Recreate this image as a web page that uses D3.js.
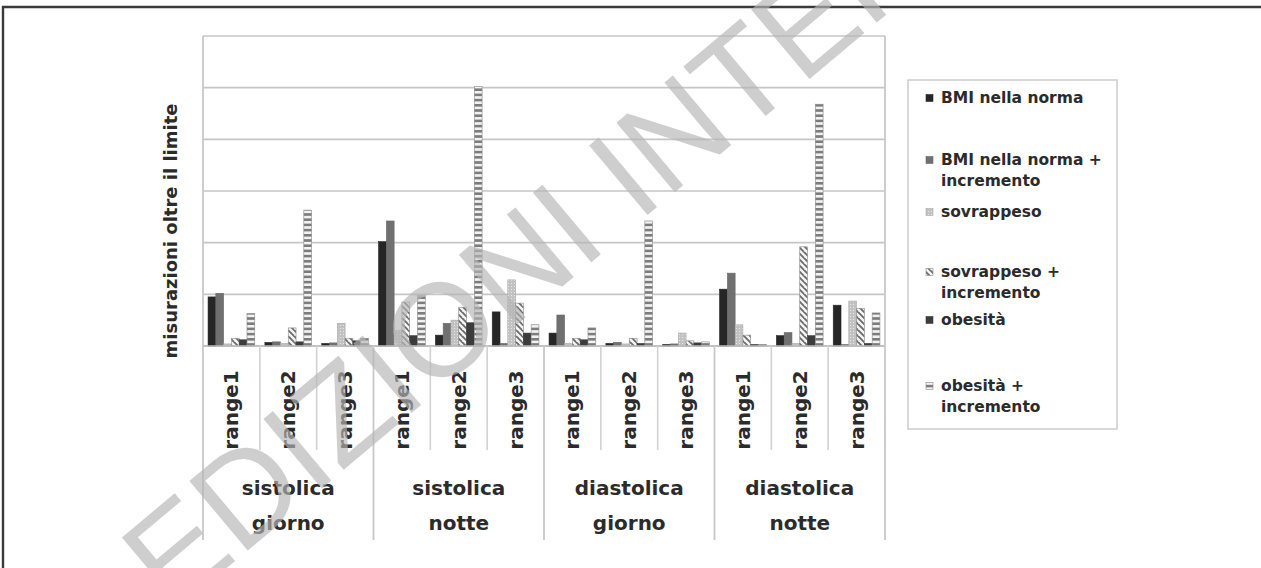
<!DOCTYPE html>
<html>
<head>
<meta charset="utf-8">
<script src="https://cdn.jsdelivr.net/npm/d3@7/dist/d3.min.js"></script>
<style>
  html, body { margin: 0; padding: 0; background: #fff; }
  svg { display: block; }
</style>
</head>
<body>
<svg id="chart" width="1261" height="568"></svg>
<script>
// ---- data ---------------------------------------------------------------
const blocks = [["sistolica", "giorno"], ["sistolica", "notte"], ["diastolica", "giorno"], ["diastolica", "notte"]];
const ranges = ["range1", "range2", "range3"];
const seriesNames = ["BMI nella norma", "BMI nella norma + incremento", "sovrappeso",
                     "sovrappeso + incremento", "obesità", "obesità + incremento"];
const legendLines = [["BMI nella norma"], ["BMI nella norma +", "incremento"], ["sovrappeso"],
                     ["sovrappeso +", "incremento"], ["obesità"], ["obesità +", "incremento"]];
const yTicks = [0, 10, 20, 30, 40, 50, 60];

// one value per block/range, in the order sistolica giorno r1..r3, sistolica notte r1..r3, ...
const bmiNorma        = [9.5, 0.7, 0.5, 20.2, 2.1, 6.6, 2.5, 0.5, 0.3, 11.0, 2.0, 7.9];
const bmiNormaIncr    = [10.2, 0.8, 0.6, 24.2, 4.4, 0.5, 6.0, 0.7, 0.4, 14.1, 2.6, 0.3];
const sovrappeso      = [0.4, 0.5, 4.4, 3.0, 5.0, 12.8, 0.5, 0.4, 2.5, 4.1, 0.5, 8.7];
const sovrappesoIncr  = [1.5, 3.5, 1.5, 8.5, 7.5, 8.3, 1.5, 1.5, 1.0, 2.1, 19.2, 7.3];
const obesita         = [1.2, 0.8, 1.0, 2.0, 4.5, 2.5, 1.2, 0.5, 0.6, 0.3, 2.0, 0.5];
const obesitaIncr     = [6.3, 26.3, 1.5, 9.8, 50.2, 4.1, 3.5, 24.2, 0.8, 0.3, 46.8, 6.4];
const seriesValues = [bmiNorma, bmiNormaIncr, sovrappeso, sovrappesoIncr, obesita, obesitaIncr];

// ---- layout -------------------------------------------------------------
const svg = d3.select("#chart");
const plot = { left: 203, right: 885, top: 36, bottom: 346 };
const labelBottom = 540, rangeLineBottom = 450;
const FONT = "'DejaVu Sans', Verdana, sans-serif";
const TEXT = "#2b2b2b";
const GRID = "#c6c6c6";

const categories = [];
blocks.forEach((b, bi) => ranges.forEach(r => categories.push(bi + "|" + r)));

const x0 = d3.scaleBand().domain(categories).range([plot.left, plot.right]).padding(0);
const x1 = d3.scaleBand().domain(d3.range(seriesNames.length)).range([0, x0.bandwidth()])
  .paddingInner(0).paddingOuter(0.65);
const y = d3.scaleLinear().domain([0, 60]).range([plot.bottom, plot.top]);

// ---- fill patterns ------------------------------------------------------
const defs = svg.append("defs");
const pDots = defs.append("pattern").attr("id", "pat-sovr").attr("patternUnits", "userSpaceOnUse")
  .attr("width", 3).attr("height", 3);
pDots.append("rect").attr("width", 3).attr("height", 3).attr("fill", "#c2c2c2");
pDots.append("rect").attr("x", 1).attr("y", 1).attr("width", 1).attr("height", 1).attr("fill", "#e6e6e6");

const pDiag = defs.append("pattern").attr("id", "pat-sovr-incr").attr("patternUnits", "userSpaceOnUse")
  .attr("width", 6).attr("height", 6);
pDiag.append("rect").attr("width", 6).attr("height", 6).attr("fill", "#f4f4f4");
pDiag.append("path").attr("d", "M0,0 L6,6 M-3,3 L0,6 M3,-3 L9,3")
  .attr("stroke", "#6a6a6a").attr("stroke-width", 1.8).attr("fill", "none");

const pHor = defs.append("pattern").attr("id", "pat-obes-incr").attr("patternUnits", "userSpaceOnUse")
  .attr("width", 6).attr("height", 5.2);
pHor.append("rect").attr("width", 6).attr("height", 5.2).attr("fill", "#f2f2f2");
pHor.append("rect").attr("width", 6).attr("height", 2.6).attr("fill", "#7c7c7c");

const fills = ["#262626", "#707070", "url(#pat-sovr)", "url(#pat-sovr-incr)", "#3c3c3c", "url(#pat-obes-incr)"];
const strokes = ["#262626", "#6a6a6a", "#a8a8a8", "#8a8a8a", "#3c3c3c", "#8a8a8a"];

// ---- grid ---------------------------------------------------------------
svg.append("g").selectAll("line").data(yTicks).join("line")
  .attr("x1", plot.left).attr("x2", plot.right)
  .attr("y1", d => y(d)).attr("y2", d => y(d))
  .attr("stroke", GRID).attr("stroke-width", 1.6);

// ---- bars ---------------------------------------------------------------
const bars = [];
categories.forEach((c, ci) => seriesValues.forEach((vals, si) => bars.push({ c, si, v: vals[ci] })));
svg.append("g").selectAll("rect").data(bars).join("rect")
  .attr("x", d => x0(d.c) + x1(d.si))
  .attr("width", x1.bandwidth())
  .attr("y", d => y(d.v))
  .attr("height", d => y(0) - y(d.v))
  .attr("fill", d => fills[d.si])
  .attr("stroke", d => strokes[d.si])
  .attr("stroke-width", 0.6);

// ---- category axis (two levels) -----------------------------------------
const axisG = svg.append("g");
axisG.append("line").attr("x1", plot.left).attr("x2", plot.right)
  .attr("y1", plot.bottom).attr("y2", plot.bottom).attr("stroke", "#bdbdbd").attr("stroke-width", 1.6);

// separators between ranges
axisG.selectAll("line.rsep").data(categories.filter((c, i) => i % ranges.length !== 0)).join("line")
  .attr("class", "rsep")
  .attr("x1", d => x0(d)).attr("x2", d => x0(d))
  .attr("y1", plot.bottom).attr("y2", rangeLineBottom)
  .attr("stroke", "#d2d2d2").attr("stroke-width", 1.6);

// separators between blocks, including the outer edges
const blockEdges = d3.range(blocks.length + 1).map(i =>
  i < blocks.length ? x0(categories[i * ranges.length]) : plot.right);
axisG.selectAll("line.bsep").data(blockEdges).join("line")
  .attr("class", "bsep")
  .attr("x1", d => d).attr("x2", d => d)
  .attr("y1", (d, i) => (i === 0 || i === blocks.length) ? plot.top : plot.bottom)
  .attr("y2", labelBottom)
  .attr("stroke", "#c8c8c8").attr("stroke-width", 1.8);

// range labels, vertical
axisG.selectAll("text.rlab").data(categories).join("text")
  .attr("class", "rlab")
  .attr("transform", d => `translate(${x0(d) + x0.bandwidth() / 2},410) rotate(-90)`)
  .attr("text-anchor", "middle").attr("dominant-baseline", "central")
  .attr("font-family", FONT).attr("font-weight", "bold").attr("font-size", 20)
  .attr("fill", TEXT)
  .text(d => d.split("|")[1]);

// block labels, two lines each
blocks.forEach((b, bi) => {
  const cx = (blockEdges[bi] + blockEdges[bi + 1]) / 2;
  const t = axisG.append("text").attr("text-anchor", "middle")
    .attr("font-family", FONT).attr("font-weight", "bold").attr("font-size", 20).attr("fill", TEXT);
  b.forEach((line, li) => t.append("tspan").attr("x", cx).attr("y", 495 + li * 35).text(line));
});

// ---- y axis title -------------------------------------------------------
svg.append("text")
  .attr("transform", "translate(170,231) rotate(-90)")
  .attr("text-anchor", "middle").attr("dominant-baseline", "central")
  .attr("font-family", FONT).attr("font-weight", "bold").attr("font-size", 18)
  .attr("fill", TEXT)
  .text("misurazioni oltre il limite");

// ---- legend -------------------------------------------------------------
const legendBox = { x: 908, y: 80, w: 209, h: 349 };
const legendY = [98, 160, 212, 272, 320, 386];
const lg = svg.append("g");
lg.append("rect").attr("x", legendBox.x).attr("y", legendBox.y)
  .attr("width", legendBox.w).attr("height", legendBox.h)
  .attr("fill", "#fff").attr("stroke", "#cfcfcf").attr("stroke-width", 1.6);
legendLines.forEach((lines, i) => {
  lg.append("rect").attr("x", 926).attr("y", legendY[i] - 3.5).attr("width", 7).attr("height", 7)
    .attr("fill", fills[i]).attr("stroke", strokes[i]).attr("stroke-width", 0.6);
  const t = lg.append("text").attr("font-family", FONT).attr("font-weight", "bold")
    .attr("font-size", 15.5).attr("fill", TEXT).attr("dominant-baseline", "central");
  lines.forEach((line, li) => t.append("tspan")
    .attr("x", 941).attr("y", legendY[i] + li * 21).text(line));
});

// ---- page frame ---------------------------------------------------------
svg.append("path").attr("d", "M3,568 V7 H1261").attr("fill", "none")
  .attr("stroke", "#3a3a3a").attr("stroke-width", 2.4);

// ---- publisher watermark ------------------------------------------------
svg.append("text")
  .attr("transform", "translate(172,614) rotate(-40)")
  .attr("font-family", "'Liberation Sans', Arial, sans-serif").attr("font-size", 132)
  .attr("fill", "#b4b4b4").attr("fill-opacity", 0.66)
  .style("pointer-events", "none")
  .text("EDIZIONI INTERNAZIONALI");
</script>
</body>
</html>
